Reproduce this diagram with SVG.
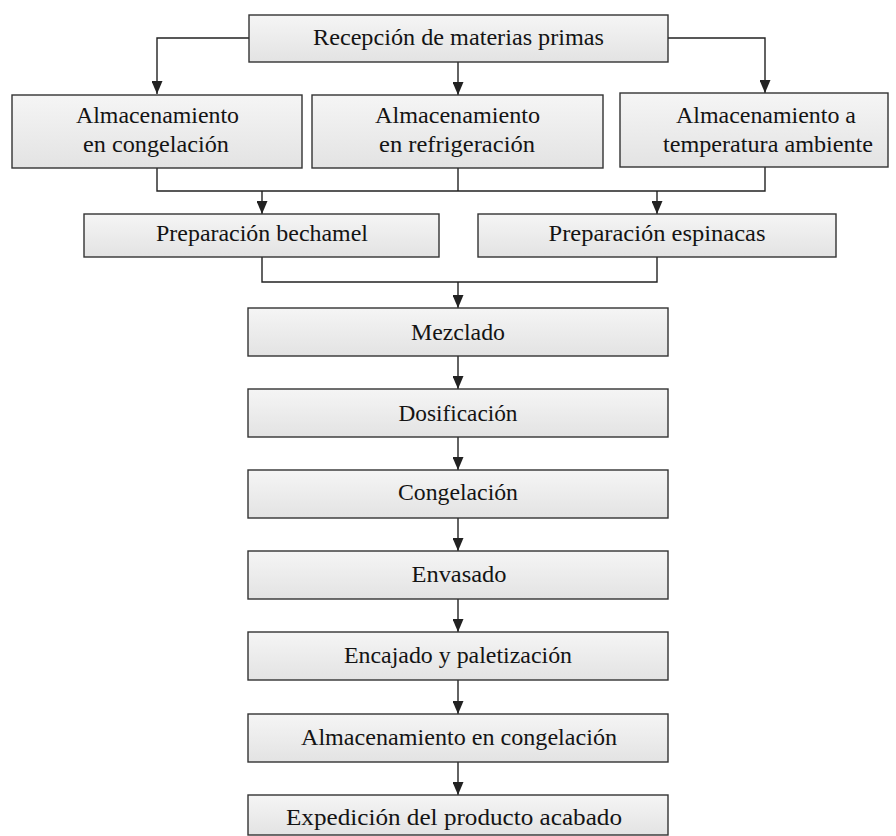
<svg xmlns="http://www.w3.org/2000/svg" width="896" height="836" viewBox="0 0 896 836">
  <style>
    .box { fill: url(#boxFill); stroke: #333333; stroke-width: 1.4; }
    .lbl { font-family: "Liberation Serif", "Times New Roman", serif; font-size: 24px; fill: #141414; text-anchor: middle; }
    .wire { fill: none; stroke: #222222; stroke-width: 1.4; }
    .arrow { fill: none; stroke: #222222; stroke-width: 1.4; marker-end: url(#head); }
  </style>
  <defs>
    <linearGradient id="boxFill" x1="0" y1="0" x2="0" y2="1">
      <stop offset="0" stop-color="#f5f5f5"/>
      <stop offset="1" stop-color="#e3e3e3"/>
    </linearGradient>
    <marker id="head" viewBox="0 0 13 11" refX="13" refY="5.5" markerWidth="13" markerHeight="11" markerUnits="userSpaceOnUse" orient="auto">
      <path d="M0,0 L13,5.5 L0,11 z" fill="#222222"/>
    </marker>
  </defs>

  <rect width="896" height="836" fill="#ffffff"/>

  <!-- connectors -->
  <g id="connectors">
    <path class="arrow" d="M249,38 H157 V94"/>
    <path class="arrow" d="M668,38 H765 V93"/>
    <path class="arrow" d="M458,62 V95"/>
    <path class="wire" d="M157,168 V191 H765 V167"/>
    <path class="wire" d="M458,168 V191"/>
    <path class="arrow" d="M262,191 V214"/>
    <path class="arrow" d="M657,191 V214"/>
    <path class="wire" d="M262,257 V282 H657 V257"/>
    <path class="arrow" d="M458,282 V308"/>
    <path class="arrow" d="M458,356 V389"/>
    <path class="arrow" d="M458,437 V470"/>
    <path class="arrow" d="M458,518 V551"/>
    <path class="arrow" d="M458,599 V632"/>
    <path class="arrow" d="M458,680 V714"/>
    <path class="arrow" d="M458,762 V795"/>
  </g>

  <!-- receiving -->
  <g id="recepcion">
    <rect class="box" x="249" y="15" width="419" height="47"/>
    <text class="lbl" x="458.5" y="45" textLength="291" lengthAdjust="spacingAndGlyphs">Recepción de materias primas</text>
  </g>

  <!-- storage -->
  <g id="alm-congelacion">
    <rect class="box" x="12" y="95" width="290" height="73"/>
    <text class="lbl" x="157.5" y="123" textLength="163" lengthAdjust="spacingAndGlyphs">Almacenamiento</text>
    <text class="lbl" x="156" y="152" textLength="146" lengthAdjust="spacingAndGlyphs">en congelación</text>
  </g>
  <g id="alm-refrigeracion">
    <rect class="box" x="312" y="95" width="291" height="73"/>
    <text class="lbl" x="457.5" y="123" textLength="165" lengthAdjust="spacingAndGlyphs">Almacenamiento</text>
    <text class="lbl" x="457" y="152" textLength="156" lengthAdjust="spacingAndGlyphs">en refrigeración</text>
  </g>
  <g id="alm-ambiente">
    <rect class="box" x="620" y="93" width="268" height="74"/>
    <text class="lbl" x="766" y="123" textLength="180" lengthAdjust="spacingAndGlyphs">Almacenamiento a</text>
    <text class="lbl" x="768" y="152" textLength="210" lengthAdjust="spacingAndGlyphs">temperatura ambiente</text>
  </g>

  <!-- preparations -->
  <g id="prep-bechamel">
    <rect class="box" x="84" y="214" width="355" height="43"/>
    <text class="lbl" x="262" y="241" textLength="212" lengthAdjust="spacingAndGlyphs">Preparación bechamel</text>
  </g>
  <g id="prep-espinacas">
    <rect class="box" x="478" y="214" width="358" height="43"/>
    <text class="lbl" x="657" y="241" textLength="217" lengthAdjust="spacingAndGlyphs">Preparación espinacas</text>
  </g>

  <!-- main line -->
  <g id="mezclado">
    <rect class="box" x="248" y="308" width="420" height="48"/>
    <text class="lbl" x="458" y="340" textLength="94" lengthAdjust="spacingAndGlyphs">Mezclado</text>
  </g>
  <g id="dosificacion">
    <rect class="box" x="248" y="389" width="420" height="48"/>
    <text class="lbl" x="458" y="421" textLength="119" lengthAdjust="spacingAndGlyphs">Dosificación</text>
  </g>
  <g id="congelacion">
    <rect class="box" x="248" y="470" width="420" height="48"/>
    <text class="lbl" x="458" y="500" textLength="120" lengthAdjust="spacingAndGlyphs">Congelación</text>
  </g>
  <g id="envasado">
    <rect class="box" x="248" y="551" width="420" height="48"/>
    <text class="lbl" x="459" y="582" textLength="95" lengthAdjust="spacingAndGlyphs">Envasado</text>
  </g>
  <g id="encajado">
    <rect class="box" x="248" y="632" width="420" height="48"/>
    <text class="lbl" x="458" y="663" textLength="228" lengthAdjust="spacingAndGlyphs">Encajado y paletización</text>
  </g>
  <g id="alm-final">
    <rect class="box" x="248" y="714" width="420" height="48"/>
    <text class="lbl" x="459" y="745" textLength="316" lengthAdjust="spacingAndGlyphs">Almacenamiento en congelación</text>
  </g>
  <g id="expedicion">
    <rect class="box" x="248" y="795" width="420" height="40"/>
    <text class="lbl" x="454" y="825" textLength="336" lengthAdjust="spacingAndGlyphs">Expedición del producto acabado</text>
  </g>
</svg>
